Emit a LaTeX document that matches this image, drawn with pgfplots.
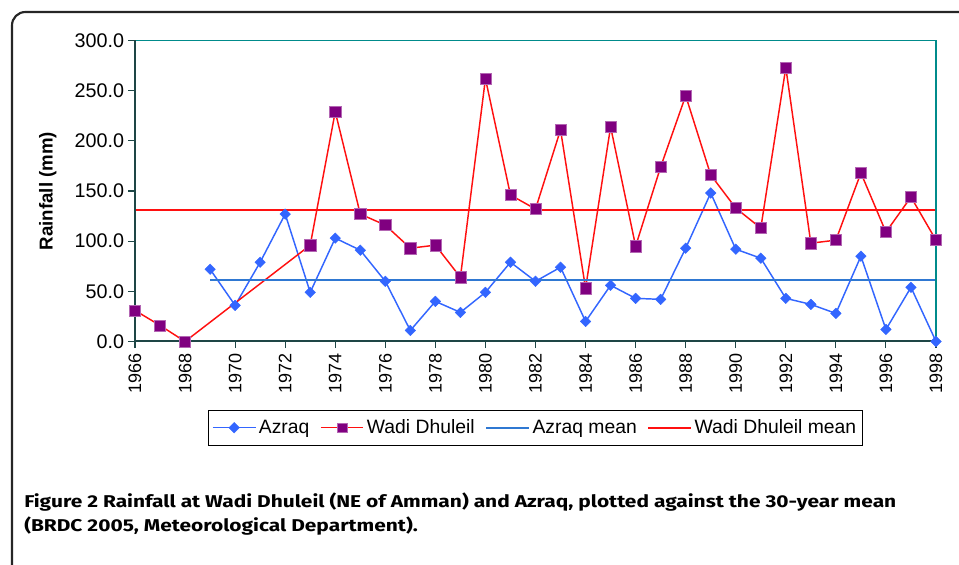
\documentclass[border=0pt]{standalone}
\usepackage{fontspec}
\setmainfont{Liberation Sans}
\newfontfamily\capfont{Fira Sans}
\usepackage{pgfplots}
\pgfplotsset{compat=1.18}
\definecolor{azblue}{HTML}{3366FF}
\definecolor{azmean}{HTML}{2F78D2}
\definecolor{wdred}{HTML}{FF1010}
\definecolor{wdmark}{HTML}{800080}
\definecolor{wdedge}{HTML}{B366B3}
\definecolor{axdark}{HTML}{1E4646}
\definecolor{axteal}{HTML}{008B8B}
\definecolor{framegray}{HTML}{262626}
\definecolor{captext}{HTML}{231F20}

\pgfplotstableread{
year val
1969 72
1970 36
1971 79
1972 127
1973 49
1974 103
1975 91
1976 60
1977 11
1978 40
1979 29
1980 49
1981 79
1982 60
1983 74
1984 20
1985 56
1986 43
1987 42
1988 93
1989 148
1990 92
1991 83
1992 43
1993 37
1994 28
1995 85
1996 12
1997 54
1998 0
}\azraq

\pgfplotstableread{
year val
1966 31
1967 16
1968 0
1973 96
1974 229
1975 127
1976 116
1977 93
1978 96
1979 64
1980 262
1981 146
1982 132
1983 211
1984 53
1985 214
1986 95
1987 174
1988 245
1989 166
1990 133
1991 113
1992 273
1993 98
1994 101
1995 168
1996 109
1997 144
1998 101
}\wadi

\newsavebox\capA
\newsavebox\capB

\begin{document}
\sbox\capA{\capfont\fontsize{12.8}{18}\selectfont\bfseries Figure 2 Rainfall at Wadi Dhuleil (NE of Amman) and Azraq, plotted against the 30-year mean}%
\sbox\capB{\capfont\fontsize{12.8}{18}\selectfont\bfseries (BRDC 2005, Meteorological Department).}%
\pgfmathsetmacro\capf{654/(\wd\capA)}%
\begin{tikzpicture}[x=0.75pt,y=0.75pt]
\useasboundingbox (0,0) rectangle (959,564);
\draw[framegray, line width=1.6pt, rounded corners=10pt] (12,-60) -- (12,552) -- (1020,552);
\coordinate (O) at (135,222.5);
\begin{axis}[
  at={(O)}, anchor=south west,
  scale only axis, width=600.75pt, height=225.75pt,
  xmin=1966, xmax=1998, ymin=0, ymax=300,
  xtick={1966,1968,...,1998},
  ytick={0,50,...,300},
  axis line style={draw=none},
  tick align=outside, xtick pos=bottom, ytick pos=left,
  major tick length=5pt,
  tick style={axdark, line width=0.8pt},
  /pgf/number format/assume math mode=true,
  xticklabel style={font=\fontsize{13.5}{15}\selectfont, rotate=90, anchor=east, inner sep=4pt},
  yticklabel style={font=\fontsize{14.8}{16}\selectfont, inner sep=3pt},
  xticklabel={\pgfmathprintnumber[1000 sep=,fixed,precision=0]{\tick}},
  yticklabel={\pgfmathprintnumber[fixed,fixed zerofill,precision=1]{\tick}},
  ylabel={\textbf{Rainfall (mm)}},
  every axis y label/.style={at={(rel axis cs:-0.109,0.5)}, rotate=90, anchor=center,
    font=\fontsize{14}{16}\selectfont},
  legend columns=4,
  legend style={at={(0.5,-0.2276)}, anchor=north, draw=black, line width=0.6pt,
    font=\fontsize{14.5}{16}\selectfont, inner xsep=3pt, inner ysep=5pt,
    /tikz/every even column/.append style={column sep=6pt}},
  legend cell align=left,
  legend image code/.code={
    \draw[#1, mark=none] (0pt,0pt) -- (32pt,0pt);},
  clip=false,
]
\addplot[draw=azblue, line width=1.1pt, mark=square*, mark size=2.8pt,
  mark options={rotate=45, fill=azblue, draw=azblue, line width=0.3pt}, forget plot]
  table[x=year,y=val] {\azraq};
\addplot[draw=wdred, line width=1.1pt, mark=square*, mark size=4.2pt,
  mark options={fill=wdmark, draw=wdedge, line width=0.4pt}, forget plot]
  table[x=year,y=val] {\wadi};
\addlegendimage{legend image code/.code={
    \draw[draw=azblue, line width=1.1pt] (0pt,0pt) -- (32pt,0pt);
    \path[mark=square*, mark size=2.8pt,
      mark options={rotate=45, fill=azblue, draw=azblue, line width=0.3pt}]
      plot coordinates {(16pt,0pt)};}}
\addlegendentry{Azraq}
\addlegendimage{legend image code/.code={
    \draw[draw=wdred, line width=1.1pt] (0pt,0pt) -- (32pt,0pt);
    \path[mark=square*, mark size=3.6pt,
      mark options={fill=wdmark, draw=wdedge, line width=0.4pt}]
      plot coordinates {(16pt,0pt)};}}
\addlegendentry{Wadi Dhuleil}
\addplot[draw=azmean, line width=1.4pt, mark=none] coordinates {(1969,61.7) (1998,61.7)};
\addlegendentry{Azraq mean}
\addplot[draw=wdred, line width=1.4pt, mark=none] coordinates {(1966,131) (1998,131)};
\addlegendentry{Wadi Dhuleil mean}
\draw[axteal, line width=1.2pt] (rel axis cs:0,1) -- (rel axis cs:1,1) -- (rel axis cs:1,0);
\draw[axdark, line width=1.5pt] (rel axis cs:0,1) -- (rel axis cs:0,0) -- (rel axis cs:1,0);
\end{axis}
\node[anchor=base west, inner sep=0pt, text=captext] at (24,57)
  {\scalebox{\capf}[1]{\usebox\capA}};
\node[anchor=base west, inner sep=0pt, text=captext] at (24,33)
  {\scalebox{\capf}[1]{\usebox\capB}};
\end{tikzpicture}
\end{document}
